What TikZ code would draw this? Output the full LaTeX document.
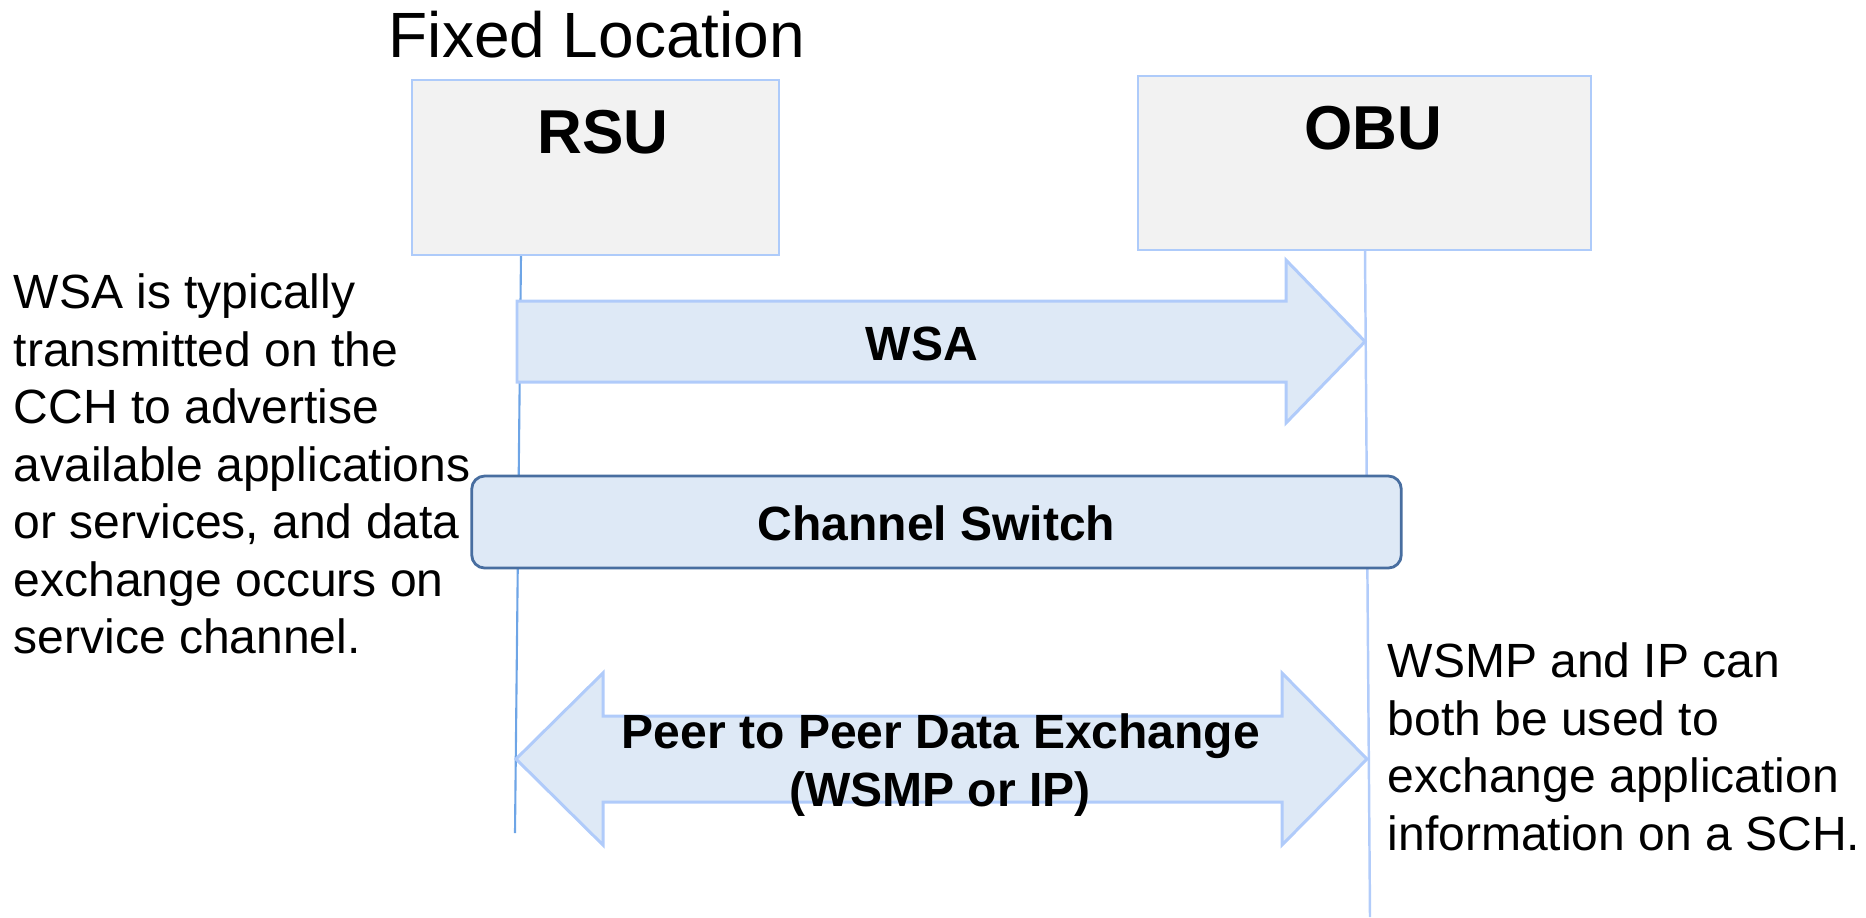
\documentclass[tikz,border=0pt]{standalone}
\usepackage{fontspec}
\setmainfont{Liberation Sans}
\definecolor{boxfill}{HTML}{F2F2F2}
\definecolor{boxedge}{RGB}{174,203,250}
\definecolor{rsuline}{RGB}{110,165,230}
\definecolor{obuline}{RGB}{178,204,250}
\definecolor{arrowfill}{RGB}{222,233,246}
\definecolor{arrowedge}{RGB}{176,203,250}
\definecolor{switchedge}{RGB}{72,110,160}
\begin{document}
\begin{tikzpicture}[x=0.01cm, y=-0.01cm,
  unitbox/.style={draw=boxedge, fill=boxfill, line width=0.7pt, inner sep=0},
  unitname/.style={font=\bfseries\fontsize{17.64pt}{21pt}\selectfont, inner sep=0, anchor=base},
  msglbl/.style={font=\bfseries\fontsize{13.66pt}{16.36pt}\selectfont, inner sep=0, anchor=base},
  note/.style={font=\fontsize{13.66pt}{16.36pt}\selectfont, inner sep=0, align=left, anchor=north west},
  lifeline/.style={line width=0.6pt},
  blockarrow/.style={fill=arrowfill, draw=arrowedge, line width=0.85pt, line join=miter},
  switchbox/.style={draw=switchedge, fill=arrowfill, line width=0.8pt, rounded corners=0.13cm, inner sep=0,
    minimum width=9.29cm, minimum height=0.92cm}
]
\useasboundingbox (0,0) rectangle (1866,917);

% title
\node[font=\fontsize{18.2pt}{21pt}\selectfont, inner sep=0, anchor=base west] (title) at (388,57) {Fixed Location};

% lifelines (drawn first, boxes cover them)
\coordinate (rsuTop) at (521,255);
\coordinate (rsuEnd) at (515,833);
\coordinate (obuTop) at (1365,250);
\coordinate (obuEnd) at (1370,917);
\draw[lifeline, rsuline] (rsuTop) -- (rsuEnd);
\draw[lifeline, obuline, line width=0.7pt] (obuTop) -- (obuEnd);

% units
\node[unitbox, minimum width=3.67cm, minimum height=1.75cm] (rsu) at (595.5,167.5) {};
\node[unitname] (rsuname) at (603,153) {RSU};
\node[unitbox, minimum width=4.53cm, minimum height=1.74cm] (obu) at (1364.5,163) {};
\node[unitname] (obuname) at (1373,149) {OBU};

% WSA broadcast
\draw[blockarrow] (517,301) -- (1286,301) -- (1286,260) -- (1365,341.5)
  -- (1286,423) -- (1286,382) -- (517,382) -- cycle;
\node[msglbl] (wsa) at (922,360) {WSA};

% channel switch
\node[switchbox] (switch) at (936.5,522) {};
\node[msglbl] (switchlbl) at (936.5,540) {Channel Switch};

% peer-to-peer exchange
\draw[blockarrow] (516,759) -- (603,673) -- (603,716) -- (1282,716) -- (1282,673)
  -- (1367,759) -- (1282,845) -- (1282,802) -- (603,802) -- (603,845) -- cycle;
\node[msglbl] (p2p) at (941,748) {Peer to Peer Data Exchange};
\node[msglbl] (p2pproto) at (940,806) {(WSMP or IP)};

% side notes
\node[note] (leftnote) at (13,273) {WSA is typically\\transmitted on the\\CCH to advertise\\available applications\\or services, and data\\exchange occurs on\\service channel.};
\node[note] (rightnote) at (1387,642) {WSMP and IP can\\both be used to\\exchange application\\information on a SCH.};
\end{tikzpicture}
\end{document}
